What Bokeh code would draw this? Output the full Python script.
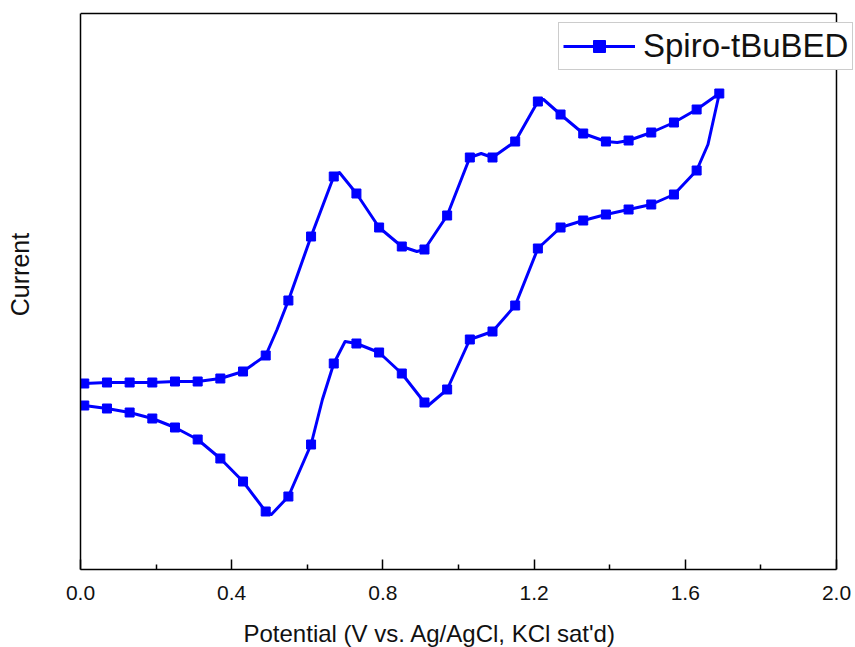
import math
from bokeh.plotting import figure
from bokeh.models import Legend, LegendItem, FixedTicker, Range1d, Label
from bokeh.embed import file_html
from bokeh.resources import INLINE

# Potential (V vs. Ag/AgCl) of the marked points
potential = [0.01, 0.07, 0.13, 0.19, 0.25, 0.31, 0.37, 0.43, 0.49, 0.55,
             0.61, 0.67, 0.73, 0.79, 0.85, 0.91, 0.97, 1.03, 1.09, 1.15,
             1.21, 1.27, 1.33, 1.39, 1.45, 1.51, 1.57, 1.63, 1.69]
# forward (anodic) scan, arbitrary current units
forward_current = [1.86, 1.87, 1.87, 1.87, 1.88, 1.88, 1.91, 1.98, 2.14, 2.69,
                   3.33, 3.93, 3.76, 3.42, 3.23, 3.20, 3.54, 4.12, 4.12, 4.28,
                   4.68, 4.55, 4.36, 4.28, 4.29, 4.37, 4.47, 4.60, 4.76]
# reverse (cathodic) scan, same potentials
reverse_current = [1.64, 1.61, 1.57, 1.51, 1.42, 1.30, 1.11, 0.88, 0.58, 0.73,
                   1.25, 2.06, 2.26, 2.17, 1.96, 1.67, 1.80, 2.30, 2.38, 2.64,
                   3.21, 3.42, 3.49, 3.55, 3.60, 3.65, 3.75, 3.99, 4.76]
# extra points of the traced curve between markers (peaks / troughs)
forward_extra_E = [0.0, 0.52, 0.685, 0.89, 1.06, 1.225, 1.42]
forward_extra_I = [1.86, 2.40, 3.97, 3.18, 4.16, 4.70, 4.27]
reverse_extra_E = [0.0, 0.505, 0.64, 0.70, 0.92, 1.66]
reverse_extra_I = [1.64, 0.55, 1.70, 2.28, 1.64, 4.25]

x_ticks = [0.0, 0.4, 0.8, 1.2, 1.6, 2.0]
x_minor_ticks = [0.2, 0.6, 1.0, 1.4, 1.8]
x_limits = (0.0, 2.0)
y_limits = (0.0, 5.56)
series_name = "Spiro-tBuBED"
x_title = "Potential (V vs. Ag/AgCl, KCl sat'd)"
y_title = "Current"

fwd = sorted(zip(potential + forward_extra_E, forward_current + forward_extra_I))
rev = sorted(zip(potential[:-1] + reverse_extra_E, reverse_current[:-1] + reverse_extra_I), reverse=True)
loop_E = [e for e, _ in fwd] + [e for e, _ in rev]
loop_I = [i for _, i in fwd] + [i for _, i in rev]

FONT = "Liberation Sans"
BLUE = "#0000FF"
TXT = "#111111"

# The frame reaches the window's right and top edges so that the legend (which
# sticks out past the axes box in the reference) is not clipped; the top and
# right sides of the axes box are drawn at the axis limits.
p = figure(width=855, height=647, output_backend="svg", toolbar_location=None,
           x_range=Range1d(x_limits[0], 2.0503), y_range=Range1d(y_limits[0], 5.69),
           min_border_left=80, min_border_right=0, min_border_top=0, min_border_bottom=78)
p.xgrid.visible = False
p.ygrid.visible = False
p.outline_line_color = None

p.segment(x0=[x_limits[0], x_limits[1]], y0=[y_limits[1], y_limits[0]],
          x1=[x_limits[1], x_limits[1]], y1=[y_limits[1], y_limits[1]],
          line_color="black", line_width=1.5)

line_r = p.line(loop_E, loop_I, line_color=BLUE, line_width=3, line_join="round")
pts_r = p.scatter(potential + potential[:-1], forward_current + reverse_current[:-1],
                  marker="square", size=9, fill_color=BLUE, line_color=BLUE)

xa = p.xaxis[0]
xa.bounds = x_limits
xa.ticker = FixedTicker(ticks=x_ticks, minor_ticks=x_minor_ticks)
xa.major_label_overrides = {0.0: "0.0", 2.0: "2.0"}
xa.major_tick_in = 10
xa.major_tick_out = 0
xa.minor_tick_in = 5
xa.minor_tick_out = 0
xa.axis_line_width = 1.5
xa.major_tick_line_width = 1.5
xa.minor_tick_line_width = 1.5
xa.major_label_text_font = FONT
xa.major_label_text_font_size = "21px"
xa.major_label_text_color = TXT
xa.major_label_standoff = 16

ya = p.yaxis[0]
ya.bounds = y_limits
ya.ticker = FixedTicker(ticks=[])
ya.major_tick_in = 0
ya.major_tick_out = 0
ya.minor_tick_in = 0
ya.minor_tick_out = 0
ya.axis_line_width = 1.5

# axis titles placed as in the reference (x title left of centre, y title above centre)
p.add_layout(Label(x=163, y=-4, x_units="screen", y_units="screen", text=x_title,
                   text_font=FONT, text_font_size="24px", text_color=TXT,
                   text_align="left", text_baseline="middle"), "below")
p.add_layout(Label(x=-33, y=295, x_units="screen", y_units="screen", text=y_title,
                   angle=math.pi / 2, text_font=FONT, text_font_size="25px", text_color=TXT,
                   text_align="center", text_baseline="middle"), "left")

legend = Legend(items=[LegendItem(label=series_name, renderers=[line_r, pts_r])],
                location=(478, 499), orientation="vertical",
                label_text_font=FONT, label_text_font_size="33px", label_text_color=TXT,
                glyph_width=72, glyph_height=30, label_standoff=8, padding=4, margin=0,
                border_line_color="#999999", border_line_width=1.5,
                background_fill_color="white", background_fill_alpha=1.0)
p.add_layout(legend, "center")

open("out.html", "w").write(file_html(p, INLINE))
